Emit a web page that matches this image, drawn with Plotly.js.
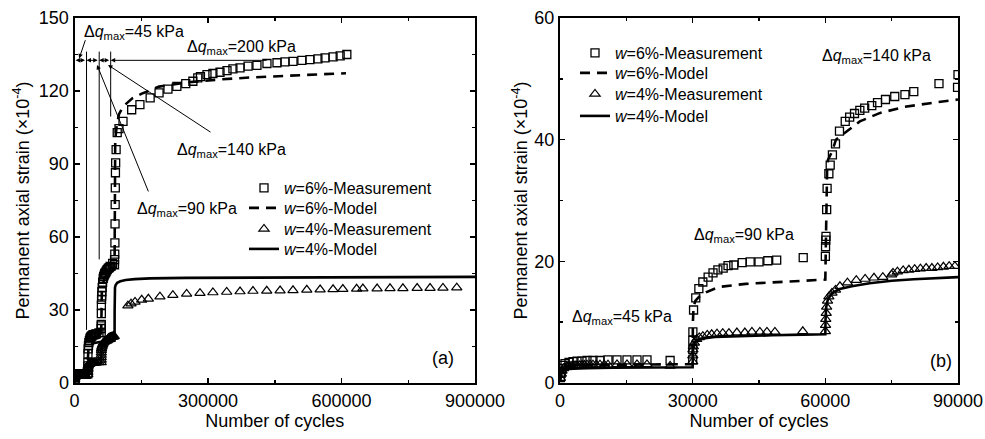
<!DOCTYPE html>
<html>
<head>
<meta charset="utf-8">
<script src="https://cdn.plot.ly/plotly-3.0.1.min.js"></script>
<style>html,body{margin:0;padding:0;background:#fff;}#chart{width:985px;height:439px;}</style>
</head>
<body>
<div id="chart"></div>
<script>
// ---------------- data (number of cycles / permanent axial strain x1e-4) ----------------
const w6MeasN = [100,250,450,700,1130,2030,2940,3840,4970,6100,7460,9040,10850,12890,15150,17410,19670,24900,
  30010,30020,30030,30050,30200,30700,31400,32300,33500,34600,35700,36900,38000,39300,41200,43000,45000,47000,49000,55000,
  60010,60050,60100,60150,60300,60400,60800,61100,61600,62300,63200,64500,65500,66600,67800,68900,70500,71800,73600,75700,78000,80000,85700,89900,
  90000,90500,90800,91100,91400,91700,92000,92500,93500,96000,100000,109000,128500,147000,170000,190000,210000,230000,250000,266000,277000,283000,297700,
  311000,327000,342700,356000,372000,390000,410000,432500,455000,473000,491000,511000,529000,547000,563000,581000,597000,612000];
const w6MeasE = [0.9,1.6,2.4,2.9,3.2,3.4,3.5,3.6,3.6,3.7,3.7,3.7,3.8,3.8,3.8,3.8,3.8,3.7,
  3.8,5.5,7.0,8.4,12.0,14.0,15.5,16.6,17.4,18.1,18.6,18.9,19.3,19.4,19.8,19.9,19.9,20.1,20.2,20.6,
  20.8,22.4,23.5,24.1,28.5,32.0,34.4,35.8,37.5,39.3,41.4,43.0,43.7,44.3,44.8,45.2,45.6,46.1,46.6,47.1,47.4,47.9,49.2,48.6,
  50.7,53.0,57.6,65.4,73.3,80.2,86.4,90.5,95.9,102.9,104.5,107.5,112.3,114.4,117.2,119.2,120.8,121.9,123.0,124.0,125.4,125.9,126.7,
  127.2,127.7,128.4,129.1,129.5,130.2,130.5,131.3,131.6,132.0,132.2,132.6,132.9,133.2,133.6,134.0,134.4,135.0];

const w6ModelN = [0,100,300,700,1500,3000,6000,12000,20000,30000,
  30050,30200,30600,31500,33000,36000,42000,48000,54000,60000,
  60100,60250,60400,60600,61500,62400,64400,67800,72400,78000,83700,90000,
  90200,90600,91500,95000,100000,110000,130000,150000,190000,250000,330000,400000,470000,545000,610000];
const w6ModelE = [0.3,1.2,2.0,2.5,2.7,2.85,2.95,3.0,3.05,3.1,
  10.0,12.5,13.5,14.2,14.9,15.8,16.3,16.5,16.7,17.0,
  22.0,30.0,35.0,36.7,38.0,40.0,41.1,43.0,44.4,45.4,46.0,46.6,
  70.0,90.0,100.0,106.0,110.5,113.8,117.0,118.8,121.8,123.5,124.8,125.6,126.3,126.8,127.3];

const w4MeasN = [100,300,450,800,1130,1600,2030,2500,2940,3400,3840,4400,4970,5500,6100,6800,7460,8200,9040,10000,10850,12890,15150,17410,19670,24900,
  30010,30030,30060,30150,30400,30900,31500,32300,33300,34300,35500,36800,38200,40000,41800,43400,45200,46800,48600,54900,
  60010,60050,60100,60200,60300,60500,60800,61500,62300,63300,65000,67000,69000,71000,73000,75000,75300,76300,77600,78900,80200,81500,82800,84100,85400,86700,88000,89300,
  120000,127000,136000,151000,166000,192000,221000,252000,282000,311000,342000,372000,401000,432000,462000,491000,522000,552000,581000,603000,634000,648000,680000,709000,738000,770000,799000,828000,859000];
const w4MeasE = [0.8,1.5,2.0,2.4,2.6,2.7,2.8,2.8,2.85,2.9,2.9,2.9,2.95,2.95,3.0,3.0,3.0,3.0,3.0,3.0,3.0,3.05,3.05,3.05,3.05,2.8,
  3.5,4.5,5.5,6.0,6.6,7.2,7.5,7.7,7.9,8.0,8.1,8.2,8.2,8.3,8.3,8.4,8.4,8.4,8.4,8.5,
  8.5,9.5,10.5,11.5,12.5,13.5,14.2,14.8,15.3,15.9,16.5,16.9,17.1,17.3,17.4,17.8,18.1,18.3,18.5,18.6,18.7,18.8,18.9,18.9,19.0,19.1,19.2,19.2,
  31.8,32.6,33.3,34.2,34.6,35.5,36.1,36.6,36.9,37.2,37.4,37.6,37.8,37.9,38.0,38.1,38.3,38.4,38.5,38.6,38.7,38.8,38.8,38.9,38.9,39.0,39.0,39.1,39.2];

const w4ModelN = [0,100,300,700,1500,3000,6000,12000,20000,30000,
  30050,30200,30700,32000,35000,40000,48000,55000,60000,
  60050,60200,60600,61500,63000,66000,70000,75000,80000,85000,90000,
  90200,90500,91000,92500,96000,103000,115000,135000,170000,250000,400000,600000,900000];
const w4ModelE = [0.2,1.0,1.6,2.0,2.25,2.35,2.45,2.5,2.55,2.6,
  5.0,6.2,6.9,7.3,7.55,7.7,7.85,7.95,8.0,
  10.5,12.5,13.8,14.7,15.4,15.9,16.4,16.8,17.05,17.2,17.4,
  30.0,37.0,39.3,40.3,41.2,41.8,42.3,42.7,43.0,43.2,43.3,43.5,43.6];

const seriesNames = ['<i>w</i>=6%-Measurement','<i>w</i>=6%-Model','<i>w</i>=4%-Measurement','<i>w</i>=4%-Model'];
const stageLabels = ['Δ<i>q</i><sub>max</sub>=45 kPa','Δ<i>q</i><sub>max</sub>=90 kPa','Δ<i>q</i><sub>max</sub>=140 kPa','Δ<i>q</i><sub>max</sub>=200 kPa'];
const yTitle = 'Permanent axial strain (×10<sup>-4</sup>)';
const xTitle = 'Number of cycles';
const panelLabels = ['(a)','(b)'];
const zoomMaxN = 90000;   // panel (b) shows the first three loading stages

// ---------------- drawing ----------------
const FONT = 'Liberation Sans, Arial, sans-serif';
const W = 985, H = 439;
const px = v => v / W;
const py = v => 1 - v / H;

function upTo(xs, ys, lim) {
  const ox = [], oy = [];
  xs.forEach((v, i) => { if (v <= lim) { ox.push(v); oy.push(ys[i]); } });
  return [ox, oy];
}

function traces(xa, ya, lgs, lim) {
  const a = upTo(w6MeasN, w6MeasE, lim), b = upTo(w6ModelN, w6ModelE, lim),
        c = upTo(w4MeasN, w4MeasE, lim), d = upTo(w4ModelN, w4ModelE, lim);
  return [
    {x: a[0], y: a[1], name: seriesNames[0], type: 'scatter', mode: 'markers', xaxis: xa, yaxis: ya, legend: lgs[0],
     marker: {symbol: 'square-open', size: 8, color: '#000', line: {width: 1.3, color: '#000'}}},
    {x: b[0], y: b[1], name: seriesNames[1], type: 'scatter', mode: 'lines', xaxis: xa, yaxis: ya, legend: lgs[1],
     line: {color: '#000', width: 2.6, dash: '10px,7px'}},
    {x: c[0], y: c[1], name: seriesNames[2], type: 'scatter', mode: 'markers', xaxis: xa, yaxis: ya, legend: lgs[2],
     marker: {symbol: 'triangle-up-open', size: 9, color: '#000', line: {width: 1.2, color: '#000'}}},
    {x: d[0], y: d[1], name: seriesNames[3], type: 'scatter', mode: 'lines', xaxis: xa, yaxis: ya, legend: lgs[3],
     line: {color: '#000', width: 2.6}}
  ];
}

const data = traces('x', 'y', ['legend','legend2','legend3','legend4'], Infinity)
  .concat(traces('x2', 'y2', ['legend5','legend6','legend7','legend8'], zoomMaxN));

const yDom = [py(383), py(18)];
function axis(extra) {
  return Object.assign({
    showline: true, linewidth: 2, linecolor: '#000', mirror: 'ticks',
    ticks: 'inside', ticklen: 5, tickwidth: 1.5, tickcolor: '#000',
    showgrid: false, zeroline: false, tickformat: 'd',
    tickfont: {family: FONT, size: 18, color: '#000'},
    tickmode: 'linear', tick0: 0
  }, extra);
}
const minor = d => ({dtick: d, ticks: 'inside', ticklen: 3, tickwidth: 1.5, tickcolor: '#000'});
const titleFont = {family: FONT, size: 18, color: '#000'};

const annFont = {family: FONT, size: 16, color: '#000'};
function label(text, xp, yp, anchor, size) {
  return {text: text, xref: 'paper', yref: 'paper', x: px(xp), y: py(yp), xanchor: anchor || 'left', yanchor: 'middle',
          showarrow: false, font: Object.assign({}, annFont, size ? {size: size} : {})};
}
function arrow(x, y, ax, ay, side) {
  return {text: '', xref: 'x', yref: 'y', axref: 'x', ayref: 'y', x: x, y: y, ax: ax, ay: ay,
          showarrow: true, arrowhead: 2, arrowsize: 0.9, arrowwidth: 1, arrowcolor: '#000',
          arrowside: side || 'end', standoff: 0, startstandoff: 0, startarrowhead: 2, startarrowsize: 0.9};
}
function legendAt(xl, yc) {
  return {x: px(xl), y: py(yc), xanchor: 'left', yanchor: 'middle', bgcolor: 'rgba(0,0,0,0)', borderwidth: 0,
          font: {family: FONT, size: 16, color: '#000'}, itemwidth: 30};
}

const hY = 132.6;
const layout = {
  width: W, height: H,
  margin: {l: 0, r: 0, t: 0, b: 0},
  paper_bgcolor: '#fff', plot_bgcolor: '#fff',
  font: {family: FONT, color: '#000'},
  showlegend: true,
  xaxis: axis({domain: [px(74.5), px(475)], anchor: 'y', range: [0, 900000], dtick: 300000, minor: minor(150000),
    title: {text: xTitle, font: titleFont, standoff: 4}}),
  yaxis: axis({domain: yDom, anchor: 'x', range: [0, 150], dtick: 30, minor: minor(15),
    title: {text: yTitle, font: titleFont, standoff: 5}}),
  xaxis2: axis({domain: [px(560), px(958)], anchor: 'y2', range: [0, 90000], dtick: 30000, minor: minor(15000),
    title: {text: xTitle, font: titleFont, standoff: 4}}),
  yaxis2: axis({domain: yDom, anchor: 'x2', range: [0, 60], dtick: 20, minor: minor(10),
    title: {text: yTitle, font: titleFont, standoff: 2}}),
  legend: legendAt(244, 188), legend2: legendAt(244, 208), legend3: legendAt(244, 229), legend4: legendAt(244, 249),
  legend5: legendAt(575, 53), legend6: legendAt(575, 73), legend7: legendAt(575, 94), legend8: legendAt(575, 116),
  shapes: [
    {type: 'line', xref: 'x', yref: 'y', x0: 27000, x1: 27000, y0: 136.2, y1: 21.8, line: {color: '#000', width: 1}},
    {type: 'line', xref: 'x', yref: 'y', x0: 55500, x1: 55500, y0: 136.2, y1: 50.8, line: {color: '#000', width: 1}},
    {type: 'line', xref: 'x', yref: 'y', x0: 81300, x1: 81300, y0: 136.2, y1: 109.5, line: {color: '#000', width: 1}}
  ],
  annotations: [
    label(stageLabels[0], 82, 32),
    label(stageLabels[3], 185, 47),
    label(stageLabels[2], 175, 150),
    label(stageLabels[1], 135, 209),
    label(stageLabels[0], 570, 317),
    label(stageLabels[1], 691.5, 235),
    label(stageLabels[2], 820, 57),
    label(panelLabels[0], 443, 358, 'center', 18),
    label(panelLabels[1], 941, 361, 'center', 18),
    arrow(2500, hY, 27000, hY, 'end+start'),
    arrow(27000, hY, 55500, hY, 'end+start'),
    arrow(55500, hY, 81300, hY, 'end+start'),
    arrow(81300, hY, 435000, hY, 'end'),
    arrow(10500, 133.4, 25500, 141.5, 'end'),
    arrow(50600, 130.7, 167400, 78.1, 'end'),
    arrow(75300, 130.7, 309000, 102.7, 'end')
  ]
};

Plotly.newPlot('chart', data, layout, {displayModeBar: false, staticPlot: true});
</script>
</body>
</html>
